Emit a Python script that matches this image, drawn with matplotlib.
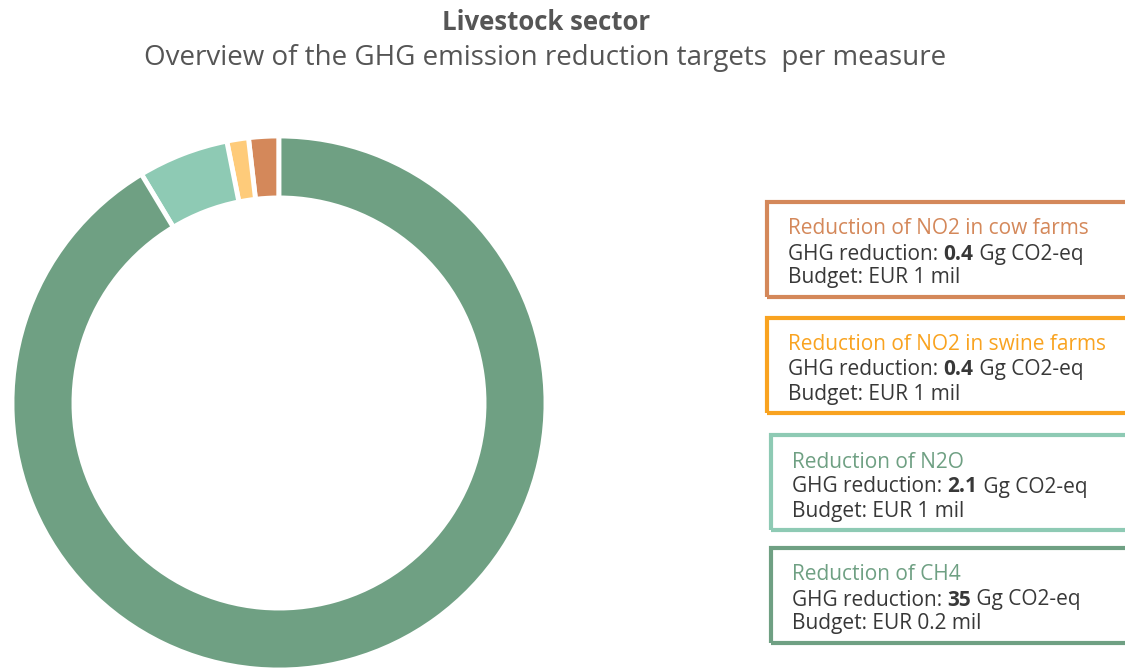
import matplotlib
matplotlib.use("Agg")
import matplotlib.pyplot as plt
from matplotlib.patches import Rectangle

# data (counterclockwise from 12 o'clock)
measures = ["Reduction of NO2 in cow farms", "Reduction of NO2 in swine farms",
            "Reduction of N2O", "Reduction of CH4"]
# slice sizes (the small slices are drawn wider than their labels)
slice_values = [0.7, 0.5, 2.1, 35]
reduction_labels = ["0.4", "0.4", "2.1", "35"]
budgets = ["EUR 1 mil", "EUR 1 mil", "EUR 1 mil", "EUR 0.2 mil"]
slice_colors = ["#d4885a", "#fecb7a", "#8ecab4", "#6fa083"]
box_colors = ["#d4885a", "#f9a320", "#8ecab4", "#6fa083"]
header_colors = ["#d4885a", "#f9a320", "#6fa083", "#6fa083"]

W, H = 1125, 671
plt.rcParams['font.family'] = ['Open Sans', 'DejaVu Sans']
fig = plt.figure(figsize=(W / 100, H / 100), dpi=100)
text_col = "#555555"


def fx(x):
    return x / W


def fy(y):
    return 1 - y / H


# titles
fig.text(fx(546), fy(23), "Livestock sector", ha='center', va='center',
         fontsize=18.5, fontweight='bold', color=text_col)
fig.text(fx(545), fy(58), "Overview of the GHG emission reduction targets  per measure",
         ha='center', va='center', fontsize=20, color=text_col)

# donut
cx, cy, r = 279, 403, 267
ax = fig.add_axes([fx(cx - r), fy(cy + r), 2 * r / W, 2 * r / H])
ax.pie(slice_values, colors=slice_colors, startangle=90, counterclock=True,
       wedgeprops=dict(width=0.232, edgecolor='white', linewidth=3.5))
ax.set_xlim(-1, 1)
ax.set_ylim(-1, 1)
ax.axis('off')

# legend boxes (right edge is cut off by the figure)
box_tops = [202, 318, 435, 548]
box_lefts = [767, 767, 771, 771]
box_h = 95
fs = 15
body_col = "#383838"
fig.canvas.draw()
renderer = fig.canvas.get_renderer()
for i in range(4):
    top, left = box_tops[i], box_lefts[i]
    fig.patches.append(Rectangle((fx(left), fy(top + box_h)), fx(400), box_h / H,
                                 transform=fig.transFigure, fill=False,
                                 edgecolor=box_colors[i], linewidth=3))
    tx = left + 21
    fig.text(fx(tx), fy(top + 27), measures[i], ha='left', va='center',
             fontsize=fs, color=header_colors[i])
    # mixed weight line
    t1 = fig.text(fx(tx), fy(top + 52), "GHG reduction: ", ha='left', va='center',
                  fontsize=fs, color=body_col)
    x2 = t1.get_window_extent(renderer).x1
    t2 = fig.text(x2 / W, fy(top + 52), reduction_labels[i], ha='left', va='center',
                  fontsize=fs, fontweight='bold', color=body_col)
    x3 = t2.get_window_extent(renderer).x1
    fig.text(x3 / W, fy(top + 52), " Gg CO2-eq", ha='left', va='center',
             fontsize=fs, color=body_col)
    fig.text(fx(tx), fy(top + 76), "Budget: " + budgets[i], ha='left', va='center',
             fontsize=fs, color=body_col)

fig.savefig("out.png", dpi=100)
